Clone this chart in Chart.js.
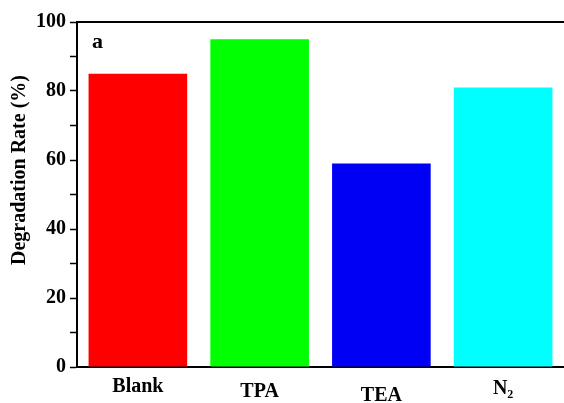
<!DOCTYPE html>
<html><head><meta charset="utf-8">
<script src="https://cdn.jsdelivr.net/npm/chart.js@4/dist/chart.umd.min.js"></script>
<style>html,body{margin:0;padding:0;background:#fff}#w{width:564px;height:403px}</style>
</head><body><div id="w"><canvas id="c"></canvas></div>
<script>
const categories = ['Blank', 'TPA', 'TEA', 'N\u2082'];
const degradationRate = [85, 95, 59, 81];
const barColors = ['#ff0000', '#00ff00', '#0000f5', '#00ffff'];
const yTicks = [0, 20, 40, 60, 80, 100];
const labelLineHeights = [2.0, 2.5, 2.9, 2.2];
const panelLetter = 'a';
const yTitle = 'Degradation Rate (%)';

const serif = '"Liberation Serif", "Times New Roman", serif';

const textPlugin = {
  id: 'texts',
  afterDraw(chart) {
    const ctx = chart.ctx, a = chart.chartArea;
    ctx.save();
    ctx.font = 'bold 22px ' + serif;
    ctx.fillStyle = '#000';
    ctx.textBaseline = 'alphabetic';
    ctx.fillText(panelLetter, a.left + 15, a.top + 26);
    ctx.restore();
    ctx.save();
    ctx.font = 'bold 20px ' + serif;
    ctx.fillStyle = '#000';
    ctx.textAlign = 'center';
    ctx.textBaseline = 'middle';
    ctx.translate(a.left - 57, a.top + 0.429 * (a.bottom - a.top));
    ctx.rotate(-Math.PI / 2);
    ctx.fillText(yTitle, 0, 0);
    ctx.restore();
  }
};

new Chart(document.getElementById('c'), {
  type: 'bar',
  data: {
    labels: categories,
    datasets: [{
      data: degradationRate,
      backgroundColor: barColors,
      borderWidth: 0,
      categoryPercentage: 1,
      barPercentage: 0.81
    }]
  },
  options: {
    responsive: true,
    maintainAspectRatio: false,
    animation: false,
    layout: { padding: { left: 0, right: -6, top: 0, bottom: 0 } },
    plugins: { legend: { display: false }, tooltip: { enabled: false } },
    scales: {
      x: {
        position: 'bottom',
        grid: { display: false, drawTicks: false },
        border: { display: true, color: '#000', width: 2 },
        ticks: {
          color: '#000',
          padding: 0,
          maxRotation: 0,
          autoSkip: false,
          font: (ctx) => ({ family: serif, size: 20, weight: 'bold', lineHeight: labelLineHeights[ctx.index] || 1.2 })
        },
        afterFit(s) { s.height = 36; }
      },
      xTop: {
        position: 'top',
        grid: { display: false, drawTicks: false },
        ticks: { display: false },
        border: { display: true, color: '#000', width: 2 },
        afterFit(s) { s.height = 22; }
      },
      y: {
        min: 0, max: 100,
        afterBuildTicks(s) {
          const t = [];
          for (let v = 0; v <= 100; v += 10) t.push({ value: v });
          s.ticks = t;
        },
        grid: { drawOnChartArea: false, drawTicks: true, tickLength: 7, color: '#000', tickWidth: 1.5 },
        border: { display: true, color: '#000', width: 2 },
        ticks: {
          color: '#000',
          padding: 4,
          font: { family: serif, size: 20, weight: 'bold' },
          callback: (v) => yTicks.includes(v) ? String(v) : ''
        },
        title: { display: false },
        afterFit(s) { s.width = 77; }
      }
    }
  },
  plugins: [textPlugin]
});
</script>
</body></html>
